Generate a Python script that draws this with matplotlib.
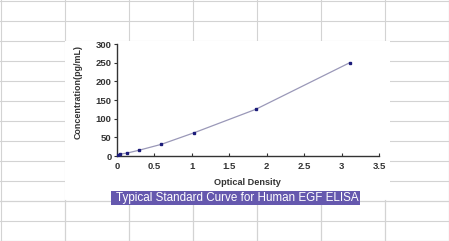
import numpy as np
import matplotlib.pyplot as plt
from matplotlib.patches import Rectangle

# standard curve points
od = [0.015, 0.035, 0.134, 0.297, 0.592, 1.033, 1.853, 3.11]
conc = [3.0, 5.0, 7.8, 15.6, 31.25, 62.5, 125.0, 250.0]

x_ticks = [0, 0.5, 1, 1.5, 2, 2.5, 3, 3.5]
x_labels = ['0', '0.5', '1', '1.5', '2', '2.5', '3', '3.5']
y_ticks = [0, 50, 100, 150, 200, 250, 300]

title = 'Typical Standard Curve for Human EGF ELISA'

W, H = 449, 241
fig = plt.figure(figsize=(W / 100, H / 100), dpi=100)
plt.rcParams['font.family'] = ['Liberation Sans', 'DejaVu Sans']

# spreadsheet-like background in pixel coordinates
bg = fig.add_axes([0, 0, 1, 1])
bg.set_xlim(0, W)
bg.set_ylim(H, 0)
bg.axis('off')
grid_c = '#d3d3d3'
for gx in list(range(0, W, 64)) + [W - 0.5]:
    bg.plot([gx + 0.5, gx + 0.5], [0, H], color=grid_c, lw=0.8, zorder=1)
for gy in list(range(0, H, 20)) + [H - 0.5]:
    bg.plot([0, W], [gy + 0.5, gy + 0.5], color=grid_c, lw=0.8, zorder=1)
bg.add_patch(Rectangle((65, 41), 325, 158.5, facecolor='white',
                       edgecolor='none', zorder=2))
bg.plot([0, W], [200.5, 200.5], color=grid_c, lw=0.8, zorder=3)
for gx in range(64, 390, 64):
    bg.plot([gx + 0.5, gx + 0.5], [200, H], color=grid_c, lw=0.8, zorder=3)
bg.add_patch(Rectangle((111, 191), 249, 13.5, facecolor='#6558ae',
                       edgecolor='none', zorder=4))
bg.text(237, 198, title, color='white', fontsize=8.4, ha='center',
        va='center', zorder=5)

# main plot
l, r, t, b = 117, 379, 44, 156
ax = fig.add_axes([l / W, 1 - b / H, (r - l) / W, (b - t) / H])
ax.patch.set_alpha(0)
ax.plot(od, conc, color='#9a98b8', lw=0.9, zorder=2)
ax.plot(od, conc, ls='none', marker='s', ms=1.6, color='#1c1c7a', zorder=3)
ax.set_xlim(0, 3.5)
ax.set_ylim(0, 300)
ax.set_xticks(x_ticks)
ax.set_xticklabels(x_labels)
ax.set_yticks(y_ticks)
for side in ['top', 'right']:
    ax.spines[side].set_visible(False)
for side in ['left', 'bottom']:
    ax.spines[side].set_color('#333333')
    ax.spines[side].set_linewidth(1.0)
ax.tick_params(axis='x', direction='in', length=2.5, width=0.8, pad=4,
               labelsize=6.8, colors='#333333')
ax.tick_params(axis='y', direction='out', length=2.5, width=0.8, pad=1.5,
               labelsize=6.8, colors='#333333')
for lab in ax.get_xticklabels() + ax.get_yticklabels():
    lab.set_fontweight('bold')
ax.set_xlabel('Optical Density', fontsize=6.6, fontweight='bold', color='#333333')
ax.set_ylabel('Concentration(pg/mL)', fontsize=6.4, fontweight='bold', color='#333333')
ax.xaxis.set_label_coords(0.496, -0.195)
ax.yaxis.set_label_coords(-0.13, 0.574)

plt.savefig('out.png', dpi=100)
